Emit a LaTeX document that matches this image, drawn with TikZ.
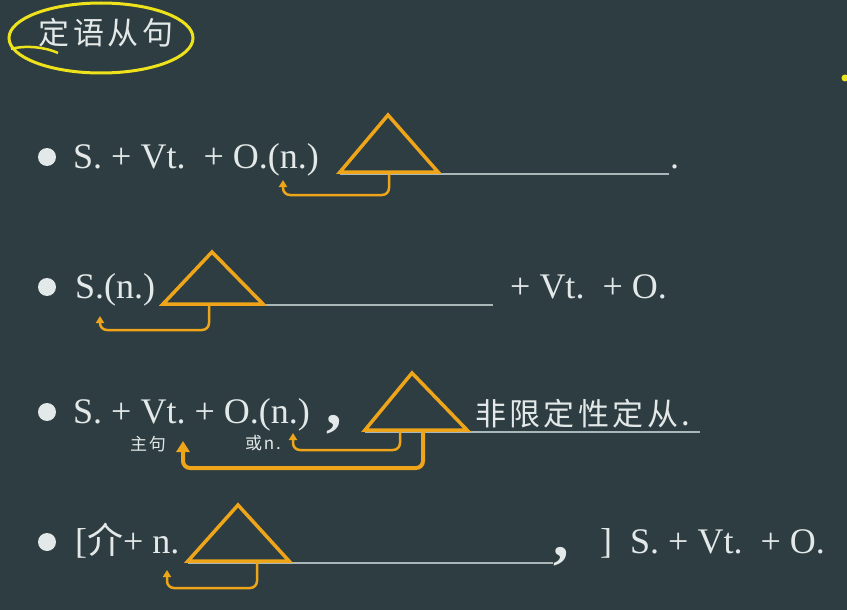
\documentclass[tikz,border=0pt]{standalone}
\usepackage{fontspec}
\setmainfont{Liberation Serif}
\newfontfamily\cjk{Noto Sans CJK SC}
\newfontfamily\cjkwide[LetterSpace=11]{Noto Sans CJK SC}
\usetikzlibrary{arrows.meta}
\definecolor{board}{HTML}{2E3D41}
\definecolor{chalk}{HTML}{E3E8E8}
\definecolor{amber}{HTML}{EEA51A}
\definecolor{marker}{HTML}{EDE21C}
\definecolor{rulegray}{HTML}{A9B7B9}
\tikzset{
  word/.style={text=chalk, inner sep=0pt, anchor=base west, font=\fontsize{36}{40}\selectfont},
  hanzi/.style={text=chalk, inner sep=0pt, font=\cjkwide\fontsize{31}{36}\selectfont},
  note/.style={text=chalk, inner sep=0pt, font=\cjkwide\fontsize{17}{20}\selectfont},
  pause/.style={word, font=\bfseries\fontsize{62}{66}\selectfont},
  bullet/.style={circle, fill=chalk, minimum size=18pt, inner sep=0pt},
  tri/.style={draw=amber, line width=3.5pt, line join=miter},
  blank/.style={draw=rulegray, line width=2.5pt},
  back/.style={draw=amber, line width=2.5pt, rounded corners=7pt, -{Triangle[length=7pt,width=8pt]}},
  backwide/.style={back, line width=4pt, -{Triangle[length=11pt,width=13pt]}},
}
\frenchspacing
\begin{document}
\begin{tikzpicture}[x=1pt,y=-1pt]
\fill[board] (0,0) rectangle (847,610);
\useasboundingbox (0,0) rectangle (847,610);
% title
\node[hanzi, anchor=center] (title) at (106,33) {定语从句};
\draw[marker, line width=3pt] (101,38) ellipse [x radius=92, y radius=35];
\draw[marker, line width=2.5pt] (11,49) .. controls (25,45) and (45,47) .. (58,53);
\fill[marker] (845,78) circle (3.5);
% row 1
\node[bullet] (d1) at (47,157) {};
\node[word] (r1) at (73,168) {S. + Vt.\ \ + O.(n.)};
\draw[blank] (340,174) -- (669,174);
\draw[tri] (340,172) -- (388,115) -- (438,172) -- cycle;
\node[word] (p1) at (670,168) {.};
\coordinate (b1) at (389,172);
\coordinate (t1) at (283,180);
\draw[back] (b1) -- ++(0,23) -| (t1);
% row 2
\node[bullet] (d2) at (47,287) {};
\node[word] (r2) at (75,298) {S.(n.)};
\draw[blank] (163,305) -- (493,305);
\draw[tri] (163,304) -- (212,252) -- (263,304) -- cycle;
\node[word] (r2b) at (510,298) {+ Vt.\ \ + O.};
\coordinate (b2) at (209,304);
\coordinate (t2) at (100,316);
\draw[back] (b2) -- ++(0,26) -| (t2);
% row 3
\node[bullet] (d3) at (47,412) {};
\node[word] (r3) at (73,423) {S. + Vt. + O.(n.)};
\node[pause] (c3) at (326,424) {,};
\node[note] (main) at (148,444) {主句};
\node[note] (orn) at (263,443) {或n.};
\draw[blank] (365,432) -- (700,432);
\draw[tri] (365,430) -- (412,373) -- (467,430) -- cycle;
\node[hanzi, anchor=base west] (nr) at (475,425) {非限定性定从.};
\coordinate (b3) at (400,430);
\coordinate (t3) at (293,433);
\draw[back] (b3) -- ++(0,20) -| (t3);
\coordinate (b3w) at (423,430);
\coordinate (t3w) at (183,441);
\draw[backwide] (b3w) -- ++(0,38) -| (t3w);
% row 4
\node[bullet] (d4) at (47,542) {};
\node[word] (r4) at (75,553) {[{\cjk 介}+ n.};
\draw[blank] (188,563) -- (553,563);
\draw[tri] (188,561) -- (238,505) -- (289,561) -- cycle;
\node[pause] (c4) at (553,556) {,};
\node[word] (r4b) at (600,553) {]\ \ S. + Vt.\ \ + O.};
\coordinate (b4) at (257,561);
\coordinate (t4) at (167,570);
\draw[back] (b4) -- ++(0,27) -| (t4);
\end{tikzpicture}
\end{document}
